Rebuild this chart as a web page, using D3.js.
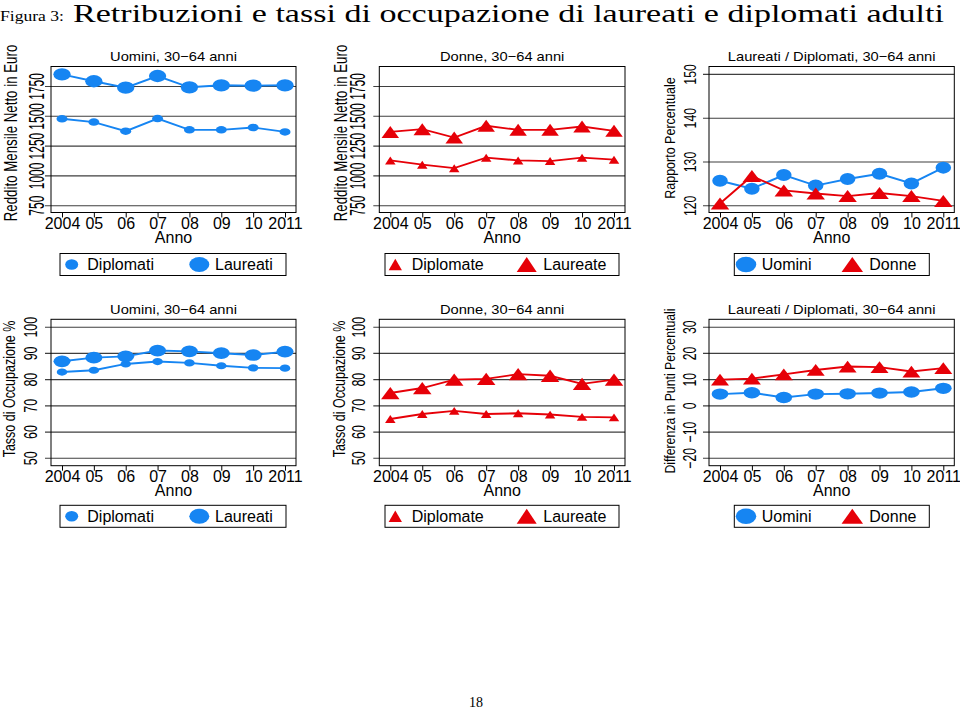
<!DOCTYPE html>
<html>
<head>
<meta charset="utf-8">
<script src="https://cdn.jsdelivr.net/npm/d3@7"></script>
<style>
  body { margin: 0; background: #fff; }
  svg text { font-family: "Liberation Sans", Arial, Helvetica, sans-serif; fill: #000; }
  svg text.serif { font-family: "Liberation Serif", "DejaVu Serif", serif; }
</style>
</head>
<body>
<div id="chart"></div>
<script>
// anni e etichette dell'asse x
var years = [2004, 2005, 2006, 2007, 2008, 2009, 2010, 2011];
var yearLabels = ["2004", "05", "06", "07", "08", "09", "10", "2011"];

// reddito mensile netto in euro
var redditoUominiDiplomati = [1475, 1447, 1371, 1477, 1382, 1382, 1402, 1365];
var redditoUominiLaureati = [1848, 1790, 1736, 1834, 1739, 1756, 1753, 1756];
var redditoDonneDiplomate = [1126, 1090, 1061, 1149, 1126, 1120, 1149, 1132];
var redditoDonneLaureate = [1365, 1388, 1317, 1416, 1382, 1382, 1410, 1374];

// rapporto percentuale laureati / diplomati
var rapportoUomini = [125.6, 123.8, 126.9, 124.5, 126.0, 127.2, 125.0, 128.6];
var rapportoDonne = [120.4, 126.7, 123.4, 122.7, 122.1, 122.8, 122.1, 121.0];

// tasso di occupazione %
var occUominiDiplomati = [82.7, 83.4, 85.8, 86.7, 86.2, 85.1, 84.3, 84.2];
var occUominiLaureati = [86.8, 88.2, 88.7, 90.9, 90.6, 89.9, 89.2, 90.5];
var occDonneDiplomate = [64.8, 66.7, 67.9, 66.7, 67.0, 66.5, 65.6, 65.4];
var occDonneLaureate = [74.7, 76.6, 79.8, 80.1, 81.9, 81.3, 78.2, 79.8];

// differenza in punti percentuali
var diffUomini = [4.3, 4.8, 3.0, 4.3, 4.4, 4.7, 5.1, 6.5];
var diffDonne = [9.8, 10.2, 11.8, 13.5, 14.8, 14.6, 12.9, 14.2];

// tick asse y
var ticksReddito = [750, 1000, 1250, 1500, 1750];
var ticksRapporto = [120, 130, 140, 150];
var ticksOcc = [50, 60, 70, 80, 90, 100];
var ticksDiff = [-20, -10, 0, 10, 20, 30];

var blue = "#1685f2";
var red = "#e60008";

var svg = d3.select("#chart")
  .append("svg")
  .attr("width", 960)
  .attr("height", 709);

// titolo della figura
svg.append("text")
  .classed("serif", true)
  .attr("x", 0)
  .attr("y", 21)
  .style("font-size", "14px")
  .attr("textLength", 64)
  .attr("lengthAdjust", "spacingAndGlyphs")
  .text("Figura 3:");

svg.append("text")
  .classed("serif", true)
  .attr("x", 73)
  .attr("y", 22)
  .style("font-size", "26px")
  .attr("textLength", 871)
  .attr("lengthAdjust", "spacingAndGlyphs")
  .text("Retribuzioni e tassi di occupazione di laureati e diplomati adulti");

svg.append("text")
  .classed("serif", true)
  .attr("x", 476)
  .attr("y", 707)
  .attr("text-anchor", "middle")
  .style("font-size", "14px")
  .text("18");

function triPath(w, h) {
  return `M0,${-h / 2}L${w / 2},${h / 2}L${-w / 2},${h / 2}Z`;
}

function drawMarkers(g, pts, s) {
  if (s.shape === "circle") {
    g.selectAll(null)
      .data(pts)
      .enter()
      .append("ellipse")
      .attr("cx", d => d[0])
      .attr("cy", d => d[1])
      .attr("rx", s.w / 2)
      .attr("ry", s.h / 2)
      .attr("fill", s.color);
  } else {
    g.selectAll(null)
      .data(pts)
      .enter()
      .append("path")
      .attr("transform", d => `translate(${d[0]},${d[1]})`)
      .attr("d", triPath(s.w, s.h))
      .attr("fill", s.color);
  }
}

function drawPanel(p) {
  var g = svg.append("g");

  var xScale = d3.scaleLinear()
    .domain([2004, 2011])
    .range([p.left + 11, p.right - 11]);

  var yScale = d3.scaleLinear()
    .domain(p.yDomain)
    .range(p.yRange);

  // griglia e tick y
  var leftAxis = d3.axisLeft(yScale)
    .tickValues(p.yTicks)
    .tickSize(-(p.right - p.left + 6))
    .tickFormat(d => d < 0 ? "\u2212" + Math.abs(d) : d);

  var yAxis = g.append("g")
    .attr("transform", `translate(${p.left - 6}, 0)`)
    .call(leftAxis);

  yAxis.select(".domain").remove();
  yAxis.selectAll("line")
    .attr("stroke", "#3f3f3f")
    .attr("stroke-width", 1.1);
  yAxis.selectAll("text")
    .attr("x", null)
    .attr("dy", null)
    .attr("fill", "#000")
    .attr("text-anchor", "middle")
    .attr("transform", `translate(${p.tickX - p.left + 6}, 0) scale(${p.tickSx}, 1) rotate(-90)`)
    .style("font-size", p.tickFont + "px")
    .style("font-family", null);

  // asse x
  var bottomAxis = d3.axisBottom(xScale)
    .tickValues(years)
    .tickSize(5)
    .tickFormat((d, i) => yearLabels[i]);

  var xAxis = g.append("g")
    .attr("transform", `translate(0, ${p.bottom})`)
    .call(bottomAxis);

  xAxis.select(".domain").remove();
  xAxis.selectAll("line")
    .attr("stroke", "#000")
    .attr("stroke-width", 1);
  xAxis.selectAll("text")
    .attr("y", 16.8)
    .attr("dy", 0)
    .attr("fill", "#000")
    .style("font-size", "16px")
    .style("font-family", null);

  // cornice
  g.append("rect")
    .attr("x", p.left)
    .attr("y", p.top)
    .attr("width", p.right - p.left)
    .attr("height", p.bottom - p.top)
    .attr("fill", "none")
    .attr("stroke", "#000")
    .attr("stroke-width", 1);

  // serie
  var line = d3.line()
    .x(d => d[0])
    .y(d => d[1]);

  p.series.forEach(s => {
    var pts = years.map((yr, i) => [xScale(yr), yScale(s.values[i])]);
    g.append("path")
      .attr("d", line(pts))
      .attr("fill", "none")
      .attr("stroke", s.color)
      .attr("stroke-width", 1.9);
    drawMarkers(g, pts, s);
  });

  // titolo del pannello
  g.append("text")
    .attr("text-anchor", "middle")
    .attr("transform", `translate(${(p.left + p.right) / 2}, ${p.top - 5.5}) scale(1.13, 1)`)
    .style("font-size", "13px")
    .text(p.heading);

  // titolo asse y
  g.append("text")
    .attr("text-anchor", "middle")
    .attr("transform", `translate(${p.titleX}, ${p.titleY}) scale(${p.titleSx}, 1) rotate(-90)`)
    .style("font-size", p.titleFont + "px")
    .text(p.yTitle);

  // titolo asse x
  g.append("text")
    .attr("text-anchor", "middle")
    .attr("x", (p.left + p.right) / 2)
    .attr("y", p.bottom + 30)
    .style("font-size", "16px")
    .text("Anno");

  // legenda
  var lg = g.append("g");
  lg.append("rect")
    .attr("x", p.legend.x0)
    .attr("y", p.legend.cy - 11)
    .attr("width", p.legend.x1 - p.legend.x0)
    .attr("height", 22)
    .attr("fill", "#fff")
    .attr("stroke", "#000")
    .attr("stroke-width", 1);

  p.series.forEach((s, i) => {
    var it = p.legend.items[i];
    drawMarkers(lg, [[p.legend.x0 + it.mx, p.legend.cy]], {shape: s.shape, color: s.color, w: s.lw, h: s.lh});
    lg.append("text")
      .attr("x", p.legend.x0 + it.tx)
      .attr("y", p.legend.cy + 5.8)
      .style("font-size", "16px")
      .text(s.name);
  });
}

var yTop = {top: 66.5, bottom: 212.5};
var yBot = {top: 319.3, bottom: 465.7};

var panels = [
  {
    left: 51, right: 296, top: yTop.top, bottom: yTop.bottom,
    yDomain: [750, 1750], yRange: [205.2, 86], yTicks: ticksReddito,
    tickX: 44.3, tickFont: 12, tickSx: 1.9,
    yTitle: "Reddito Mensile Netto in Euro", titleX: 17, titleY: 133, titleFont: 13.3, titleSx: 1.38,
    heading: "Uomini, 30\u221264 anni",
    legend: {x0: 60, x1: 286, cy: 264.5, items: [{mx: 11.7, tx: 27.3}, {mx: 139.3, tx: 155}]},
    series: [
      {name: "Diplomati", values: redditoUominiDiplomati, color: blue, shape: "circle", w: 11, h: 7.5, lw: 13, lh: 10.5},
      {name: "Laureati", values: redditoUominiLaureati, color: blue, shape: "circle", w: 17.3, h: 12.3, lw: 20, lh: 15}
    ]
  },
  {
    left: 379.3, right: 625, top: yTop.top, bottom: yTop.bottom,
    yDomain: [750, 1750], yRange: [205.2, 86], yTicks: ticksReddito,
    tickX: 365, tickFont: 12, tickSx: 1.9,
    yTitle: "Reddito Mensile Netto in Euro", titleX: 346.7, titleY: 133, titleFont: 13.3, titleSx: 1.38,
    heading: "Donne, 30\u221264 anni",
    legend: {x0: 385, x1: 619, cy: 264.5, items: [{mx: 10.3, tx: 26.7}, {mx: 141.7, tx: 158.3}]},
    series: [
      {name: "Diplomate", values: redditoDonneDiplomate, color: red, shape: "tri", w: 10.5, h: 8, lw: 13.3, lh: 11.5},
      {name: "Laureate", values: redditoDonneLaureate, color: red, shape: "tri", w: 17.5, h: 12, lw: 20, lh: 15}
    ]
  },
  {
    left: 709, right: 954.3, top: yTop.top, bottom: yTop.bottom,
    yDomain: [120, 150], yRange: [205.3, 73.9], yTicks: ticksRapporto,
    tickX: 695.5, tickFont: 12.3, tickSx: 1.35,
    yTitle: "Rapporto Percentuale", titleX: 674.5, titleY: 138, titleFont: 12.5, titleSx: 1.2,
    heading: "Laureati / Diplomati, 30\u221264 anni",
    legend: {x0: 734.3, x1: 929.3, cy: 264.5, items: [{mx: 11.7, tx: 27.4}, {mx: 118, tx: 135}]},
    series: [
      {name: "Uomini", values: rapportoUomini, color: blue, shape: "circle", w: 15.5, h: 12, lw: 20.5, lh: 15.5},
      {name: "Donne", values: rapportoDonne, color: red, shape: "tri", w: 18.5, h: 12, lw: 21.5, lh: 15}
    ]
  },
  {
    left: 51, right: 296, top: yBot.top, bottom: yBot.bottom,
    yDomain: [50, 100], yRange: [457.8, 326.7], yTicks: ticksOcc,
    tickX: 37, tickFont: 12.5, tickSx: 1.5,
    yTitle: "Tasso di Occupazione %", titleX: 14.5, titleY: 389, titleFont: 12.5, titleSx: 1.25,
    heading: "Uomini, 30\u221264 anni",
    legend: {x0: 60, x1: 286, cy: 516.3, items: [{mx: 11.7, tx: 27.3}, {mx: 139.3, tx: 155}]},
    series: [
      {name: "Diplomati", values: occUominiDiplomati, color: blue, shape: "circle", w: 10.5, h: 7.2, lw: 13, lh: 10.5},
      {name: "Laureati", values: occUominiLaureati, color: blue, shape: "circle", w: 17, h: 11.7, lw: 20, lh: 15}
    ]
  },
  {
    left: 379.3, right: 625, top: yBot.top, bottom: yBot.bottom,
    yDomain: [50, 100], yRange: [457.8, 326.7], yTicks: ticksOcc,
    tickX: 365, tickFont: 12.5, tickSx: 1.5,
    yTitle: "Tasso di Occupazione %", titleX: 344.5, titleY: 389, titleFont: 12.5, titleSx: 1.25,
    heading: "Donne, 30\u221264 anni",
    legend: {x0: 385, x1: 619, cy: 516.3, items: [{mx: 10.3, tx: 26.7}, {mx: 141.7, tx: 158.3}]},
    series: [
      {name: "Diplomate", values: occDonneDiplomate, color: red, shape: "tri", w: 10.5, h: 7.8, lw: 13.3, lh: 11.5},
      {name: "Laureate", values: occDonneLaureate, color: red, shape: "tri", w: 18.5, h: 12.3, lw: 20, lh: 15}
    ]
  },
  {
    left: 709, right: 954.3, top: yBot.top, bottom: yBot.bottom,
    yDomain: [-20, 30], yRange: [457.8, 326.7], yTicks: ticksDiff,
    tickX: 695.5, tickFont: 12.3, tickSx: 1.45,
    yTitle: "Differenza in Punti Percentuali", titleX: 674.5, titleY: 391, titleFont: 12.3, titleSx: 1.22,
    heading: "Laureati / Diplomati, 30\u221264 anni",
    legend: {x0: 734.3, x1: 929.3, cy: 516.3, items: [{mx: 11.7, tx: 27.4}, {mx: 118, tx: 135}]},
    series: [
      {name: "Uomini", values: diffUomini, color: blue, shape: "circle", w: 16.7, h: 11.3, lw: 20.5, lh: 15.5},
      {name: "Donne", values: diffDonne, color: red, shape: "tri", w: 18, h: 11.8, lw: 21.5, lh: 15}
    ]
  }
];

panels.forEach(p => drawPanel(p));
</script>
</body>
</html>
